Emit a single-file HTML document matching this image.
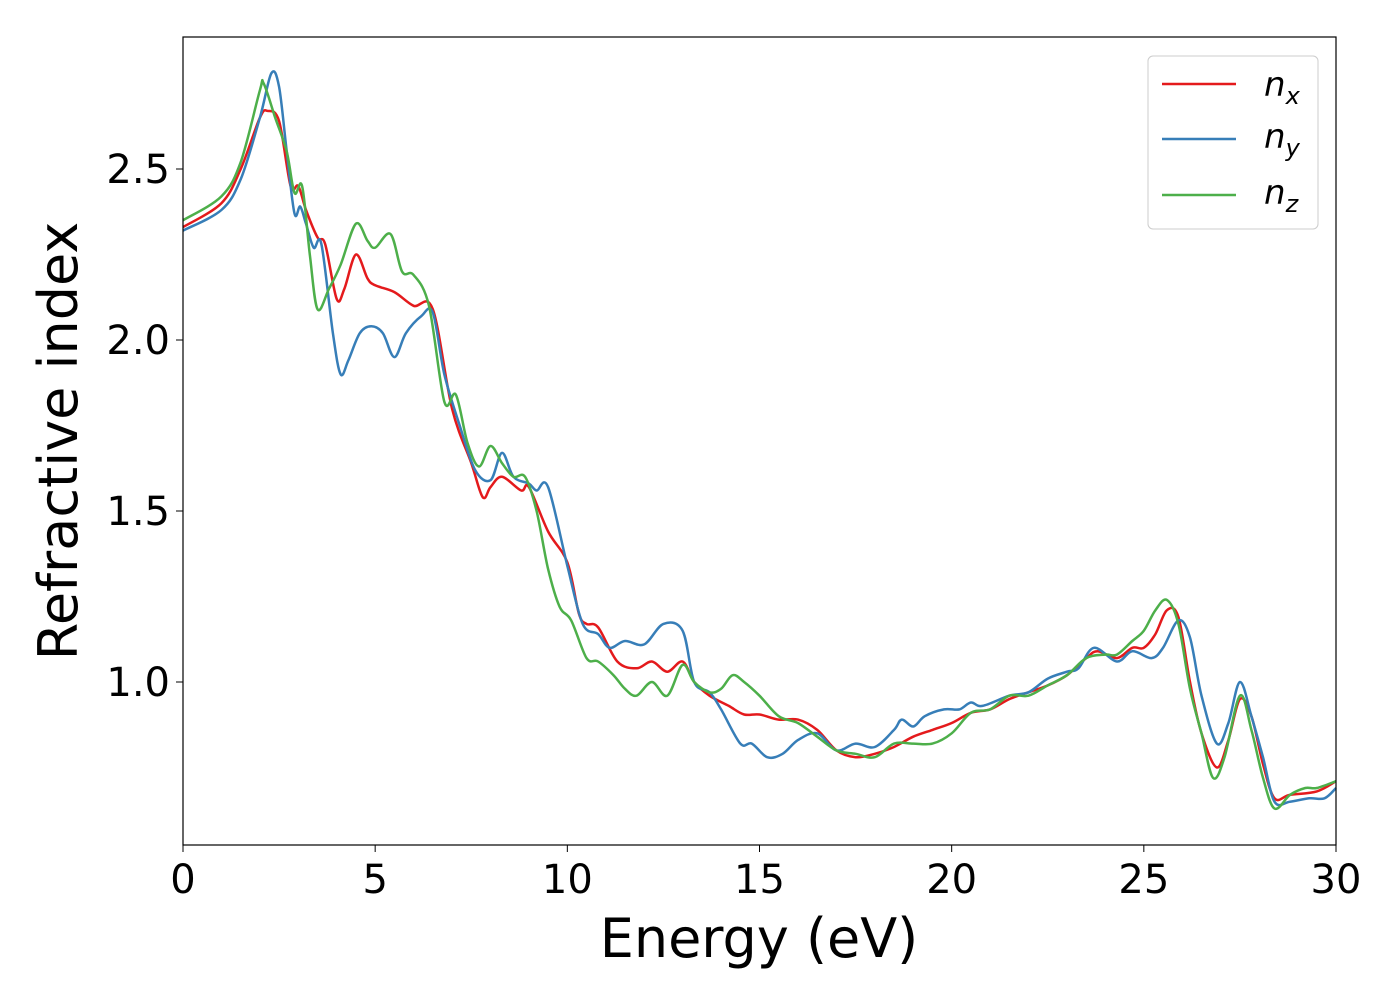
<!DOCTYPE html>
<html><head><meta charset="utf-8"><style>
body{margin:0;background:#fff;}
svg text{font-family:"DejaVu Sans","Liberation Sans",sans-serif;fill:#000;}
</style></head><body>
<svg width="1400" height="1000" xmlns="http://www.w3.org/2000/svg">
<rect x="0" y="0" width="1400" height="1000" fill="#fff"/>
<g id="plot"></g>
<rect x="183" y="37" width="1153" height="808" fill="none" stroke="#000" stroke-width="1.2"/>
<g id="xt"></g>
<g id="yt"></g>
<text x="759" y="957" font-size="54" text-anchor="middle">Energy (eV)</text>
<text transform="translate(77,441) rotate(-90)" font-size="54" text-anchor="middle">Refractive index</text>
<g>
<rect x="1148" y="56" width="170" height="173" rx="5" fill="#fff" stroke="#ccc"/>
<g><line x1="1162" y1="84" x2="1236" y2="84" stroke="#e41a1c" stroke-width="2.5"/><text x="1264" y="96" font-size="34" font-style="italic">n<tspan font-size="24" dy="8">x</tspan></text></g>
<g><line x1="1162" y1="139" x2="1236" y2="139" stroke="#377eb8" stroke-width="2.5"/><text x="1264" y="148" font-size="34" font-style="italic">n<tspan font-size="24" dy="8">y</tspan></text></g>
<g><line x1="1162" y1="195" x2="1236" y2="195" stroke="#4daf4a" stroke-width="2.5"/><text x="1264" y="204" font-size="34" font-style="italic">n<tspan font-size="24" dy="8">z</tspan></text></g>
</g>
</svg>
<script>
const xTicks=[0,5,10,15,20,25,30];
const yTicks=[1.0,1.5,2.0,2.5];
const nxE=[0,1,1.5,2,2.2,2.5,2.8,3,3.2,3.5,3.7,4,4.2,4.5,4.8,5,5.5,6,6.5,7,7.5,7.8,8,8.3,8.8,9,9.5,10,10.3,10.5,10.8,11.3,11.8,12.2,12.6,13,13.3,13.7,14.2,14.6,15,15.5,16,16.5,17,17.5,18,18.5,19,19.5,20,20.5,21,21.5,22,22.5,23,23.5,23.8,24.3,24.7,25,25.3,25.6,25.9,26.2,26.5,26.9,27.2,27.5,27.8,28.1,28.4,28.8,29.5,30];
const nxV=[2.33,2.40,2.50,2.65,2.67,2.64,2.45,2.45,2.38,2.30,2.28,2.12,2.15,2.25,2.18,2.16,2.14,2.10,2.09,1.80,1.64,1.54,1.57,1.60,1.56,1.57,1.44,1.35,1.20,1.17,1.16,1.06,1.04,1.06,1.03,1.06,1.00,0.96,0.93,0.905,0.905,0.89,0.89,0.86,0.80,0.78,0.79,0.81,0.84,0.86,0.88,0.91,0.92,0.95,0.97,0.99,1.02,1.07,1.09,1.07,1.10,1.10,1.14,1.21,1.19,1.00,0.85,0.75,0.83,0.95,0.90,0.76,0.66,0.67,0.68,0.71];
const nyE=[0,1,1.5,2,2.3,2.5,2.7,2.9,3.05,3.2,3.4,3.6,3.9,4.1,4.3,4.6,4.9,5.2,5.5,5.8,6.2,6.5,6.8,7.2,7.6,8,8.3,8.6,9,9.2,9.5,10,10.4,10.8,11.1,11.5,12,12.5,13,13.3,13.7,14,14.5,14.8,15.2,15.6,16,16.5,17,17.5,18,18.5,18.7,19,19.3,19.8,20.2,20.5,20.8,21.5,22,22.5,23,23.3,23.7,24.3,24.7,25.2,25.5,25.9,26.2,26.5,26.9,27.2,27.5,27.8,28.1,28.4,28.8,29.3,29.7,30];
const nyV=[2.32,2.38,2.47,2.65,2.78,2.74,2.55,2.37,2.39,2.34,2.27,2.28,2.02,1.90,1.94,2.02,2.04,2.02,1.95,2.02,2.07,2.08,1.90,1.75,1.62,1.59,1.67,1.60,1.58,1.56,1.57,1.34,1.17,1.14,1.10,1.12,1.11,1.17,1.15,1.00,0.97,0.92,0.82,0.82,0.78,0.79,0.83,0.85,0.80,0.82,0.81,0.86,0.89,0.87,0.90,0.92,0.92,0.94,0.93,0.96,0.97,1.01,1.03,1.04,1.10,1.06,1.09,1.07,1.10,1.18,1.13,0.96,0.82,0.88,1.00,0.90,0.78,0.65,0.65,0.66,0.66,0.69];
const nzE=[0,1,1.5,2,2.1,2.4,2.7,2.9,3.1,3.3,3.5,3.8,4.1,4.5,4.8,5,5.4,5.7,6,6.4,6.8,7.1,7.4,7.7,8,8.3,8.6,8.9,9.2,9.5,9.8,10.1,10.5,10.8,11.2,11.5,11.8,12.2,12.6,13,13.3,13.7,14,14.3,14.6,15,15.5,16,16.5,17,17.5,18,18.5,19,19.5,20,20.5,21,21.5,22,22.5,23,23.5,24,24.3,24.7,25,25.3,25.6,25.9,26.2,26.5,26.8,27.1,27.5,27.8,28.1,28.4,28.8,29.2,29.5,30];
const nzV=[2.35,2.42,2.52,2.73,2.75,2.65,2.55,2.43,2.45,2.25,2.09,2.15,2.22,2.34,2.29,2.27,2.31,2.20,2.19,2.10,1.82,1.84,1.70,1.63,1.69,1.64,1.60,1.60,1.50,1.33,1.22,1.18,1.07,1.06,1.02,0.98,0.96,1.00,0.96,1.05,1.00,0.97,0.98,1.02,1.00,0.96,0.90,0.88,0.84,0.80,0.79,0.78,0.82,0.82,0.82,0.85,0.91,0.92,0.96,0.96,0.99,1.02,1.07,1.08,1.08,1.12,1.15,1.21,1.24,1.17,0.98,0.85,0.72,0.78,0.96,0.86,0.72,0.63,0.67,0.69,0.69,0.71];
const NS="http://www.w3.org/2000/svg";
const X0=183,X1=1336,XMIN=0,XMAX=30;
const sx=v=>X0+(v-XMIN)/(XMAX-XMIN)*(X1-X0);
const sy=v=>682-(v-1.0)*342;
function pathFor(E,V){
  const p=E.map((e,i)=>[sx(e),sy(V[i])]);
  let d="M"+p[0][0].toFixed(1)+","+p[0][1].toFixed(1);
  for(let i=0;i<p.length-1;i++){
    const a=p[i-1]||p[i],b=p[i],c=p[i+1],e=p[i+2]||c;
    const c1=[b[0]+(c[0]-a[0])/6,b[1]+(c[1]-a[1])/6];
    const c2=[c[0]-(e[0]-b[0])/6,c[1]-(e[1]-b[1])/6];
    d+=" C"+c1[0].toFixed(1)+","+c1[1].toFixed(1)+" "+c2[0].toFixed(1)+","+c2[1].toFixed(1)+" "+c[0].toFixed(1)+","+c[1].toFixed(1);
  }
  return d;
}
const plot=document.getElementById('plot');
[[nxE,nxV,'#e41a1c','line-nx'],[nyE,nyV,'#377eb8','line-ny'],[nzE,nzV,'#4daf4a','line-nz']].forEach(s=>{
  const el=document.createElementNS(NS,'path');
  el.setAttribute('d',pathFor(s[0],s[1]));
  el.setAttribute('fill','none');el.setAttribute('stroke',s[2]);el.setAttribute('stroke-width','2.5');
  
  
  plot.appendChild(el);
});
const xt=document.getElementById('xt');
xTicks.forEach(t=>{
  const l=document.createElementNS(NS,'line');
  l.setAttribute('x1',sx(t));l.setAttribute('x2',sx(t));l.setAttribute('y1',845);l.setAttribute('y2',852);l.setAttribute('stroke','#000');
  
  
  xt.appendChild(l);
  const tx=document.createElementNS(NS,'text');
  tx.setAttribute('x',sx(t));tx.setAttribute('y',893);tx.setAttribute('font-size','40');tx.setAttribute('text-anchor','middle');
  tx.textContent=t;
  
  
  xt.appendChild(tx);
});
const yt=document.getElementById('yt');
yTicks.forEach(t=>{
  const l=document.createElementNS(NS,'line');
  l.setAttribute('x1',176);l.setAttribute('x2',183);l.setAttribute('y1',sy(t));l.setAttribute('y2',sy(t));l.setAttribute('stroke','#000');
  
  
  yt.appendChild(l);
  const tx=document.createElementNS(NS,'text');
  tx.setAttribute('x',170);tx.setAttribute('y',sy(t)+14);tx.setAttribute('font-size','40');tx.setAttribute('text-anchor','end');
  tx.textContent=t.toFixed(1);
  
  
  yt.appendChild(tx);
});
</script>
</body></html>
